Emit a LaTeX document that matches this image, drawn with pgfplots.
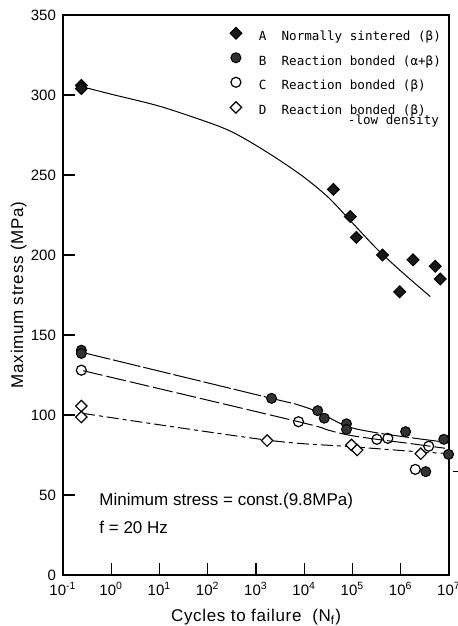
\documentclass[border=0pt]{standalone}
\usepackage{fontspec}
\setmainfont{Liberation Sans}
\newfontfamily\labfont[LetterSpace=4]{Liberation Sans}
\newfontfamily\legfont{DejaVu Sans Mono}
\usepackage{pgfplots}
\pgfplotsset{compat=1.18}
\usetikzlibrary{calc}

\begin{document}
\begin{tikzpicture}
\begin{axis}[
    xmode=log,
    width=193pt, height=280pt, scale only axis,
    xmin=0.1, xmax=1e7, ymin=0, ymax=350,
    xtick={1e-1,1,10,100,1e3,1e4,1e5,1e6,1e7},
    xticklabels={10\textsuperscript{-1},10\textsuperscript{0},10\textsuperscript{1},10\textsuperscript{2},10\textsuperscript{3},10\textsuperscript{4},10\textsuperscript{5},10\textsuperscript{6},10\textsuperscript{7}},
    xminorticks=false,
    ytick={0,50,...,350},
    yticklabel style={/pgf/number format/assume math mode=true},
    xtick pos=left, ytick pos=left,
    tick align=inside,
    major tick length=6pt,
    axis line style={line width=0.8pt},
    tick style={line width=0.6pt, black},
    ticklabel style={font=\fontsize{7.5}{9}\selectfont},
    label style={font=\labfont\fontsize{8.5}{10}\selectfont},
    xlabel={Cycles to failure\ \ (N\textsubscript{f})},
    ylabel={Maximum stress (MPa)},
    xlabel style={at={(axis description cs:0.5,-0.075)}, anchor=center},
    ylabel style={at={(axis description cs:-0.115,0.5)}, anchor=center},
    clip=false,
    legend cell align=left,
    legend image code/.code={\draw[#1] plot coordinates {(0pt,2.2pt)};},
    legend style={draw=none, fill=none, inner sep=0pt, outer sep=0pt,
        at={(axis description cs:0.4326,0.978)}, anchor=north west,
        font=\legfont\fontsize{6.3}{7.5}\selectfont,
        column sep=8.5pt, row sep=4.4pt,
        nodes={inner sep=0pt, text height=4.7pt, text depth=1.6pt}},
]
% fitted curves
\addplot[smooth, line width=0.5pt, forget plot] coordinates {
    (0.26,305) (1,300.5) (10,293) (100,283) (316,277) (1000,268.5) (3162,259)
    (1e4,248.5) (3.16e4,236) (1e5,220) (3.16e5,204) (1e6,190) (4.1e6,174)
};
\addplot[smooth, line width=0.5pt, dash pattern=on 14pt off 1.5pt, forget plot] coordinates {
    (0.26,139) (2100,110.4) (6300,107) (1.9e4,102) (7.5e4,93) (3e5,89) (1.45e6,86) (7e6,83.3)
};
\addplot[smooth, line width=0.5pt, dash pattern=on 10pt off 2pt, forget plot] coordinates {
    (0.26,127.7) (7600,95.8) (3.1e4,90.6) (8.1e4,87.5) (3.2e5,84.8) (1.45e6,82.3) (8.3e6,79.2)
};
\addplot[smooth, line width=0.5pt, dash pattern=on 6pt off 2pt on 2pt off 2pt, forget plot] coordinates {
    (0.26,101) (1700,84.3) (9.5e4,80.2) (2.6e6,76.9) (9.8e6,76)
};

% data points
\addplot[only marks, mark=square*, mark size=2.1pt,
    mark options={rotate=45, fill=black!90, draw=black, line width=0.5pt}] coordinates {
    (0.24,306) (0.24,304) (4e4,241) (9e4,224) (1.2e5,211) (4.2e5,200)
    (9.5e5,177) (1.8e6,197) (5.2e6,193) (6.6e6,185)
};
\addlegendentry{A\ \ Normally sintered (β)}
\addplot[only marks, mark=*, mark size=2.5pt,
    mark options={fill=black!80, draw=black, line width=0.5pt}] coordinates {
    (0.24,140.5) (0.24,138.5) (2100,110.4) (1.9e4,102.7) (2.6e4,98) (7.5e4,94.5)
    (7.5e4,91) (1.26e6,89.6) (7.8e6,84.8) (9.8e6,75.4) (3.3e6,64.6)
};
\addlegendentry{B\ \ Reaction bonded (α+β)}
\addplot[only marks, mark=o, mark size=2.5pt,
    mark options={fill=white, draw=black, line width=0.6pt}] coordinates {
    (0.24,128) (7600,95.8) (3.2e5,84.8) (5.4e5,85.4) (3.8e6,80.5) (2e6,66)
};
\addlegendentry{C\ \ Reaction bonded (β)}
\addplot[only marks, mark=square*, mark size=2.0pt,
    mark options={rotate=45, fill=white, draw=black, line width=0.6pt}] coordinates {
    (0.24,105.6) (0.24,98.7) (1700,84) (9.5e4,81.3) (1.25e5,78.1) (2.6e6,75.8)
};
\addlegendentry{D\ \ Reaction bonded (β)}

% run-out arrows
\draw[->, >=stealth, line width=0.4pt] (axis cs:9.8e6,75.4) ++(3pt,0) -- ++(5pt,0);
\draw[->, >=stealth, line width=0.4pt] (axis cs:3.3e6,64.6) ++(3pt,0) -- ++(5pt,0);

\node[anchor=east, inner sep=0pt, font=\legfont\fontsize{6.3}{7.5}\selectfont]
    at (rel axis cs:0.975,0.8107) {-low density};
\node[anchor=west, inner sep=0pt, font=\fontsize{8.5}{10}\selectfont]
    at (rel axis cs:0.0933,0.1327) {Minimum stress = const.(9.8MPa)};
\node[anchor=west, inner sep=0pt, font=\fontsize{8.5}{10}\selectfont]
    at (rel axis cs:0.0933,0.0857) {f = 20 Hz};

\coordinate (SW) at (rel axis cs:0,0);
\coordinate (NE) at (rel axis cs:1,1);
\end{axis}
\pgfresetboundingbox
\path[use as bounding box] ($(SW)+(-31.5pt,-25.5pt)$) rectangle ($(NE)+(4.5pt,7.5pt)$);
\end{tikzpicture}
\end{document}
